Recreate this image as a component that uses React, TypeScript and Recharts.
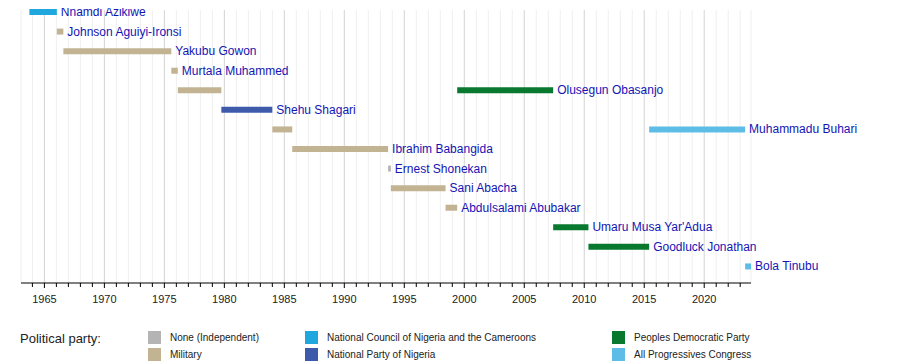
import { BarChart, Bar, XAxis, YAxis, CartesianGrid, Cell, LabelList } from "recharts"

// Heads of state, one row each. Some held office twice (second term on the same row).
const LEADERS = [
  "Nnamdi Azikiwe",
  "Johnson Aguiyi-Ironsi",
  "Yakubu Gowon",
  "Murtala Muhammed",
  "Olusegun Obasanjo",
  "Shehu Shagari",
  "Muhammadu Buhari",
  "Ibrahim Babangida",
  "Ernest Shonekan",
  "Sani Abacha",
  "Abdulsalami Abubakar",
  "Umaru Musa Yar'Adua",
  "Goodluck Jonathan",
  "Bola Tinubu",
]

const START_1 = [1963.75, 1966.04, 1966.58, 1975.58, 1976.12, 1979.75, 1984.0, 1985.66, 1993.65, 1993.88, 1998.44, 2007.41, 2010.35, 2023.41]
const END_1 = [1966.04, 1966.58, 1975.58, 1976.12, 1979.75, 1984.0, 1985.66, 1993.65, 1993.88, 1998.44, 1999.41, 2010.35, 2015.41, 2023.9]
const PARTY_1 = ["NCNC", "MIL", "MIL", "MIL", "MIL", "NPN", "MIL", "MIL", "NONE", "MIL", "MIL", "PDP", "PDP", "APC"]

const START_2: (number | null)[] = [null, null, null, null, 1999.41, null, 2015.41, null, null, null, null, null, null, null]
const END_2: (number | null)[] = [null, null, null, null, 2007.41, null, 2023.41, null, null, null, null, null, null, null]
const PARTY_2: (string | null)[] = [null, null, null, null, "PDP", null, "APC", null, null, null, null, null, null, null]

const PARTY_COLORS: Record<string, string> = {
  NONE: "#b4b4b4",
  MIL: "#c2b493",
  NCNC: "#20a8de",
  NPN: "#3e5bab",
  PDP: "#08792f",
  APC: "#5dbde6",
}

const LEGEND_COLUMNS = [
  [{ key: "NONE", label: "None (Independent)" }, { key: "MIL", label: "Military" }],
  [{ key: "NCNC", label: "National Council of Nigeria and the Cameroons" }, { key: "NPN", label: "National Party of Nigeria" }],
  [{ key: "PDP", label: "Peoples Democratic Party" }, { key: "APC", label: "All Progressives Congress" }],
]

const DOMAIN: [number, number] = [1963.05, 2023.9]
const MAJOR_YEARS = [1965, 1970, 1975, 1980, 1985, 1990, 1995, 2000, 2005, 2010, 2015, 2020]
const YEAR_TICKS = Array.from({ length: 60 }, (_, i) => 1964 + i)

const FONT = "'Liberation Sans', Arial, sans-serif"
const LABEL_COLOR = "#1414b4"

const BAR_SIZE = 6

const rows = LEADERS.map((name, i) => {
  const s2 = START_2[i]
  const e2 = END_2[i]
  const twoTerms = s2 != null && e2 != null
  return {
    name,
    term1: [START_1[i], END_1[i]],
    term2: twoTerms ? [s2, e2] : null,
    // label goes after the last term on the row
    label1: twoTerms ? undefined : name,
    label2: twoTerms ? name : undefined,
  }
})

function YearTick(props: any) {
  const { x, y, payload } = props
  const year = payload.value
  const major = MAJOR_YEARS.includes(year)
  return (
    <g>
      <line x1={x} x2={x} y1={y} y2={y + (major ? 5 : 4)} stroke="#000" />
      {major && (
        <text x={x} y={y + 20} textAnchor="middle" fontSize={11} fill="#222" fontFamily={FONT}>
          {year}
        </text>
      )}
    </g>
  )
}

function LeaderLabel(props: any) {
  if (props.value == null || props.value === "") return null
  const vb = props.viewBox ?? props
  const x = vb.x ?? props.x
  const y = vb.y ?? props.y
  const width = vb.width ?? props.width ?? 0
  const height = vb.height ?? props.height ?? 0
  return (
    <text x={x + width + 4} y={y + height / 2} dy={4} fontSize={12} fill={LABEL_COLOR} fontFamily={FONT}>
      {props.value}
    </text>
  )
}

export default function App() {
  return (
    <div style={{ position: "relative", width: 884, height: 363, marginTop: -8, fontFamily: FONT }}>
      <BarChart
        width={884}
        height={308}
        data={rows}
        layout="vertical"
        margin={{ top: 10, right: 141, left: 13, bottom: 0 }}
        barSize={BAR_SIZE}
        barGap={-BAR_SIZE}
      >
        <CartesianGrid
          horizontal={false}
          vertical={(p: any) => {
            const year = YEAR_TICKS[p.index]
            const major = MAJOR_YEARS.includes(year)
            return (
              <line
                key={`g-${p.index}`}
                x1={p.x1}
                x2={p.x2}
                y1={p.y1}
                y2={p.y2}
                stroke={major ? "#d3d3d3" : "#efefef"}
                strokeWidth={1}
              />
            )
          }}
        />
        <XAxis
          type="number"
          domain={DOMAIN}
          ticks={YEAR_TICKS}
          interval={0}
          height={25}
          tickSize={0}
          tickMargin={0}
          tickLine={false}
          axisLine={{ stroke: "#000" }}
          tick={<YearTick />}
        />
        <YAxis
          type="category"
          dataKey="name"
          width={0}
          tick={false}
          tickLine={false}
          axisLine={{ stroke: "#000" }}
          padding={{ top: -8, bottom: 7 }}
        />
        <Bar dataKey="term1" isAnimationActive={false}>
          {rows.map((_, i) => (
            <Cell key={`t1-${i}`} fill={PARTY_COLORS[PARTY_1[i]]} />
          ))}
          <LabelList dataKey="label1" content={<LeaderLabel />} />
        </Bar>
        <Bar dataKey="term2" isAnimationActive={false}>
          {rows.map((_, i) => (
            <Cell key={`t2-${i}`} fill={PARTY_2[i] ? PARTY_COLORS[PARTY_2[i] as string] : "transparent"} />
          ))}
          <LabelList dataKey="label2" content={<LeaderLabel />} />
        </Bar>
      </BarChart>

      <div style={{ position: "absolute", left: 12, top: 331, fontSize: 13, color: "#222" }}>Political party:</div>
      {LEGEND_COLUMNS.map((col, ci) => (
        <div key={ci} style={{ position: "absolute", left: [140, 297, 604][ci], top: 329 }}>
          {col.map((item) => (
            <div key={item.key} style={{ display: "flex", alignItems: "center", height: 17 }}>
              <span style={{ width: 13, height: 13, background: PARTY_COLORS[item.key], display: "inline-block" }} />
              <span style={{ marginLeft: 9, fontSize: 10, color: "#222", whiteSpace: "nowrap" }}>{item.label}</span>
            </div>
          ))}
        </div>
      ))}
    </div>
  )
}
